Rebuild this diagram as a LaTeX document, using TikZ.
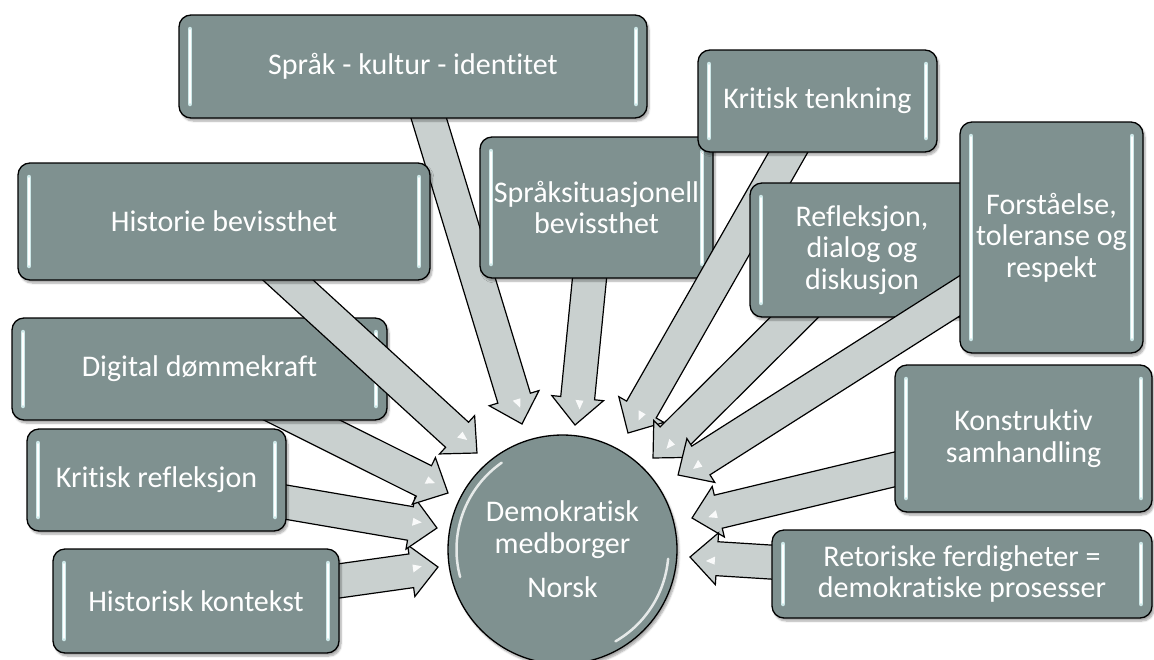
\documentclass[tikz,border=0pt]{standalone}
\usepackage{fontspec}
\setmainfont{Carlito}[Ligatures=NoCommon]
\usetikzlibrary{calc,shadows.blur}

\definecolor{boxfill}{RGB}{127,145,144}
\definecolor{arrowfill}{RGB}{201,208,207}
\definecolor{glosscol}{RGB}{205,232,232}
\colorlet{rimmid}{boxfill!88!black}
\colorlet{rimdark}{boxfill!72!black}

\pgfdeclareradialshading{hubdisc}{\pgfpoint{0bp}{0bp}}{%
  color(0bp)=(boxfill); color(40bp)=(boxfill); color(47bp)=(rimmid); color(50bp)=(rimdark)}

\tikzset{
  topic/.style={draw=black, line width=1.3pt, fill=boxfill, rounded corners=12pt,
    text=white, align=center, inner sep=0pt, outer sep=0pt,
    font=\fontsize{30}{31.5}\selectfont,
    blur shadow={shadow xshift=2pt, shadow yshift=-3pt, shadow opacity=35, shadow blur steps=6}},
  arrowbody/.style={draw=black, line width=1.2pt, fill=arrowfill, line join=miter},
  arrowgloss/.style={fill=white, opacity=0.9},
  glossline/.style={line width=4.5pt, glosscol, line cap=round},
  glosscore/.style={line width=1.6pt, white, line cap=round},
  rimgloss/.style={white, line width=2.5pt, opacity=0.8, line cap=round},
}

% block arrow from a box centre to a tip point
\newcommand\radarrow[2]{%
  \path let \p1=(#1), \p2=(#2) in \pgfextra{%
    \pgfmathsetmacro\tmpang{atan2(\y2-\y1,\x2-\x1)}\global\let\arrang\tmpang
    \pgfmathsetmacro\tmplen{veclen(\x2-\x1,\y2-\y1)}\global\let\arrlen\tmplen};
  \begin{scope}[shift={(#1)}, rotate=\arrang, x=1pt, y=1pt]
    \draw[arrowbody] (0,-17) -- (\arrlen-27,-17) -- (\arrlen-27,-26) -- (\arrlen,0)
      -- (\arrlen-27,26) -- (\arrlen-27,17) -- (0,17) -- cycle;
    \fill[arrowgloss] (\arrlen-25,-2) -- (\arrlen-16,3) -- (\arrlen-25,6) -- cycle;
  \end{scope}}

% vertical highlight strips inside a box
\newcommand\glossy[1]{%
  \draw[glossline] ([xshift=11pt,yshift=-14pt]#1.north west) -- ([xshift=11pt,yshift=14pt]#1.south west);
  \draw[glossline] ([xshift=-11pt,yshift=-14pt]#1.north east) -- ([xshift=-11pt,yshift=14pt]#1.south east);
  \draw[glosscore] ([xshift=11pt,yshift=-15pt]#1.north west) -- ([xshift=11pt,yshift=15pt]#1.south west);
  \draw[glosscore] ([xshift=-11pt,yshift=-15pt]#1.north east) -- ([xshift=-11pt,yshift=15pt]#1.south east);}

% one topic: name, centre, width, height, text
\newcommand\topic[5]{%
  \node[topic, minimum width=#3pt, minimum height=#4pt] (#1) at (#2) {#5};
  \glossy{#1}}

\begin{document}
\begin{tikzpicture}[x=1pt, y=-1pt]
\useasboundingbox (0,0) rectangle (1154,659);

% box centres and arrow tips
\coordinate (sprak-c) at (413,66.5);
\coordinate (sit-c)   at (596.5,207.5);
\coordinate (krit-c)  at (817.5,101);
\coordinate (refl-c)  at (862,250);
\coordinate (forst-c) at (1051.5,237.5);
\coordinate (kons-c)  at (1023.5,438.5);
\coordinate (reto-c)  at (962,574);
\coordinate (hkon-c)  at (196,601);
\coordinate (kref-c)  at (156.5,480);
\coordinate (dig-c)   at (199.5,369);
\coordinate (hist-c)  at (224,221.5);

\coordinate (sprak-t) at (522,424);
\coordinate (sit-t)   at (575,425);
\coordinate (krit-t)  at (628,433);
\coordinate (refl-t)  at (653,458);
\coordinate (forst-t) at (678,475);
\coordinate (kons-t)  at (692,518);
\coordinate (reto-t)  at (690,557);
\coordinate (hkon-t)  at (438,567);
\coordinate (kref-t)  at (437,528);
\coordinate (dig-t)   at (448,493);
\coordinate (hist-t)  at (477,453);

% topics, each with its arrow, clockwise from the top
\radarrow{sprak-c}{sprak-t}
\topic{sprak}{sprak-c}{468}{103}{Språk - kultur - identitet}

\radarrow{sit-c}{sit-t}
\topic{sit}{sit-c}{233}{141}{Språksituasjonell\\bevissthet}

\radarrow{krit-c}{krit-t}
\topic{krit}{krit-c}{239}{102}{Kritisk tenkning}

\radarrow{refl-c}{refl-t}
\topic{refl}{refl-c}{224}{134}{Refleksjon,\\dialog og\\diskusjon}

\radarrow{forst-c}{forst-t}
\topic{forst}{forst-c}{183}{231}{Forståelse,\\toleranse og\\respekt}

\radarrow{kons-c}{kons-t}
\topic{kons}{kons-c}{257}{147}{Konstruktiv\\samhandling}

\radarrow{reto-c}{reto-t}
\topic{reto}{reto-c}{380}{88}{Retoriske ferdigheter =\\demokratiske prosesser}

\radarrow{hkon-c}{hkon-t}
\topic{hkon}{hkon-c}{286}{104}{Historisk kontekst}

\radarrow{kref-c}{kref-t}
\topic{kref}{kref-c}{259}{102}{Kritisk refleksjon}

\radarrow{dig-c}{dig-t}
\topic{dig}{dig-c}{375}{102}{Digital dømmekraft}

\radarrow{hist-c}{hist-t}
\topic{hist}{hist-c}{412}{117}{Historie bevissthet}

% central disc
\node[circle, draw=black, line width=1.3pt, minimum size=229pt, inner sep=0pt,
      shading=hubdisc, text=white, align=center, font=\fontsize{30}{31.5}\selectfont,
      blur shadow={shadow xshift=2pt, shadow yshift=-3pt, shadow opacity=35, shadow blur steps=6}]
  (hub) at (562.5,549.5) {Demokratisk\\medborger\\[13pt]Norsk};
\draw[rimgloss, x=1pt, y=1pt, shift={(hub.center)}] (125:106) arc (125:195:106);
\draw[rimgloss, x=1pt, y=1pt, shift={(hub.center)}] (-60:106) arc (-60:-5:106);
\end{tikzpicture}
\end{document}
